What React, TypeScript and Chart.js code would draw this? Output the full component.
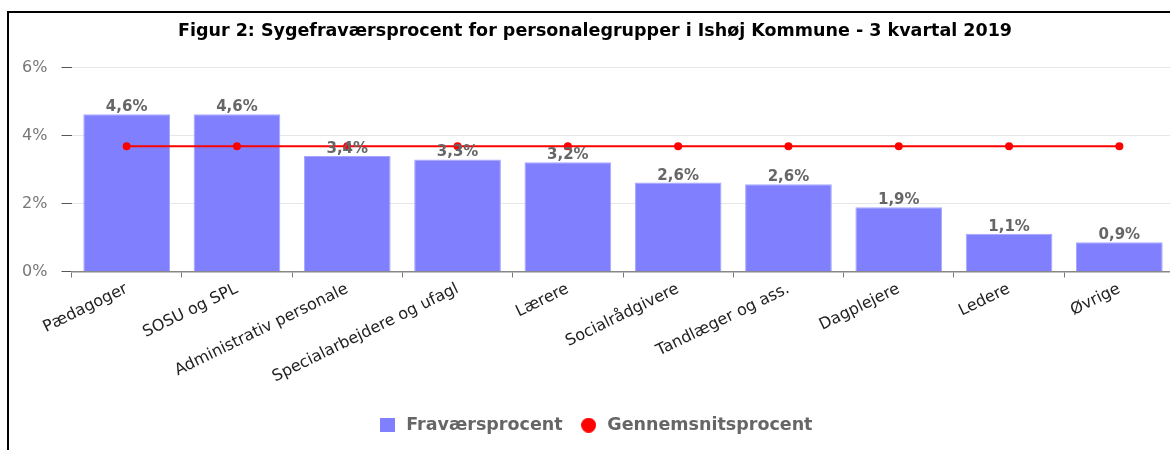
import { useEffect, useRef } from "react";
import { Chart, registerables } from "chart.js";

Chart.register(...registerables);

const titleText =
  "Figur 2: Sygefraværsprocent for personalegrupper i Ishøj Kommune - 3 kvartal 2019";

const categories = [
  "Pædagoger",
  "SOSU og SPL",
  "Administrativ personale",
  "Specialarbejdere og ufagl",
  "Lærere",
  "Socialrådgivere",
  "Tandlæger og ass.",
  "Dagplejere",
  "Ledere",
  "Øvrige",
];

const seriesNames = ["Fraværsprocent", "Gennemsnitsprocent"];

const fravaersprocent = [4.63, 4.63, 3.4, 3.3, 3.22, 2.62, 2.57, 1.89, 1.11, 0.86];

const gennemsnitsprocent = [3.69, 3.69, 3.69, 3.69, 3.69, 3.69, 3.69, 3.69, 3.69, 3.69];

const yTicks = [0, 2, 4, 6];

const FONT = "'DejaVu Sans', 'Liberation Sans', Arial, sans-serif";
const BAR_COLOR = "#8080ff";
const LINE_COLOR = "#ff0000";

function fmt(v: number): string {
  return v.toFixed(1).replace(".", ",") + "%";
}

function makeSquare(color: string, w: number, h: number) {
  const c = document.createElement("canvas");
  c.width = w;
  c.height = h;
  const g = c.getContext("2d")!;
  g.fillStyle = color;
  g.fillRect(0, 0, w, h);
  return c;
}

function makeCircle(color: string, d: number) {
  const c = document.createElement("canvas");
  c.width = d;
  c.height = d;
  const g = c.getContext("2d")!;
  g.fillStyle = color;
  g.beginPath();
  g.arc(d / 2, d / 2, d / 2, 0, Math.PI * 2);
  g.fill();
  return c;
}

const valueLabelPlugin = {
  id: "valueLabels",
  afterDatasetsDraw(chart: any) {
    const meta = chart.getDatasetMeta(0);
    const data = chart.data.datasets[0].data as number[];
    const ctx = chart.ctx;
    ctx.save();
    ctx.font = `bold 15px ${FONT}`;
    ctx.fillStyle = "#666666";
    ctx.textAlign = "center";
    ctx.textBaseline = "alphabetic";
    meta.data.forEach((el: any, i: number) => {
      ctx.fillText(fmt(data[i]), el.x, el.y - 3);
    });
    ctx.restore();
  },
};

export default function App() {
  const ref = useRef<HTMLCanvasElement | null>(null);

  useEffect(() => {
    if (!ref.current) return;
    const squareImg = makeSquare(BAR_COLOR, 15, 14);
    const circleImg = makeCircle(LINE_COLOR, 15);

    const chart = new Chart(ref.current, {
      type: "bar",
      data: {
        labels: categories,
        datasets: [
          {
            type: "bar",
            label: seriesNames[0],
            data: fravaersprocent,
            backgroundColor: BAR_COLOR,
            borderColor: "#a6a6ff",
            borderWidth: 1,
            categoryPercentage: 1,
            barPercentage: 0.786,
            order: 1,
          },
          {
            type: "line",
            label: seriesNames[1],
            data: gennemsnitsprocent,
            borderColor: LINE_COLOR,
            backgroundColor: LINE_COLOR,
            borderWidth: 2,
            pointRadius: 4,
            pointBackgroundColor: LINE_COLOR,
            pointBorderWidth: 0,
            order: 0,
          } as any,
        ],
      },
      options: {
        responsive: false,
        animation: false,
        layout: { padding: { left: 15.5, right: 15.5, top: 0, bottom: 6 } },
        plugins: {
          title: {
            display: true,
            text: titleText,
            color: "#000",
            font: { family: FONT, size: 17.5, weight: "bold" },
            padding: { top: 21.2, bottom: 25.5 },
          },
          legend: {
            position: "bottom",
            labels: {
              usePointStyle: true,
              pointStyleWidth: 20,
              boxWidth: 20,
              boxHeight: 15,
              padding: 16,
              color: "#666666",
              font: { family: FONT, size: 17.5, weight: "bold" },
              generateLabels: (c: any) => {
                const items = (Chart.defaults.plugins.legend.labels as any).generateLabels(c);
                return items
                  .sort((a: any, b: any) => a.datasetIndex - b.datasetIndex)
                  .map((it: any) => ({
                    ...it,
                    pointStyle: it.datasetIndex === 0 ? squareImg : circleImg,
                  }));
              },
            },
          },
          tooltip: { enabled: false },
        },
        scales: {
          x: {
            offset: true,
            grid: {
              display: true,
              drawOnChartArea: false,
              drawTicks: true,
              tickLength: 6,
              tickColor: "#777",
              offset: true,
            },
            border: { display: true, color: "#888", width: 1.5 },
            ticks: {
              autoSkip: false,
              minRotation: 26,
              maxRotation: 26,
              padding: 2,
              color: "#222",
              font: { family: FONT, size: 16 },
            },
            afterFit: (s: any) => {
              s.height = 129;
            },
          },
          y: {
            min: 0,
            max: 6,
            grid: {
              color: "#e6e6e6",
              tickColor: "#555",
              tickLength: 10,
            },
            border: { display: false },
            ticks: {
              padding: 14,
              color: "#777",
              font: { family: FONT, size: 16 },
              callback: (v: any) => v + "%",
            },
            afterBuildTicks: (s: any) => {
              s.ticks = yTicks.map((v) => ({ value: v }));
            },
            afterFit: (s: any) => {
              s.width = 56;
            },
          },
        },
      },
      plugins: [valueLabelPlugin],
    });
    return () => chart.destroy();
  }, []);

  return (
    <div
      style={{
        position: "fixed",
        left: 0,
        top: 0,
        width: 1170,
        height: 450,
        overflow: "hidden",
        background: "#fff",
      }}
    >
      <canvas
        ref={ref}
        width={1190}
        height={450}
        style={{ position: "absolute", left: 0, top: 0, width: 1190, height: 450 }}
      />
      <div
        style={{
          position: "absolute",
          left: 7,
          top: 11,
          width: 1300,
          height: 600,
          borderTop: "2px solid #000",
          borderLeft: "2px solid #000",
          pointerEvents: "none",
        }}
      />
    </div>
  );
}
